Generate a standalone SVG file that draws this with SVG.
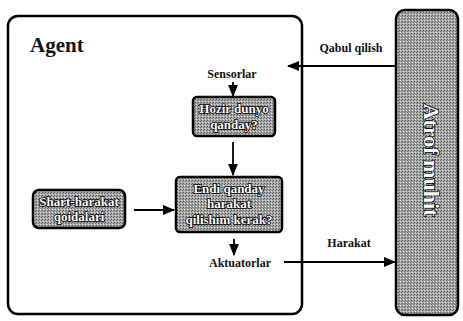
<svg xmlns="http://www.w3.org/2000/svg" width="463" height="321" viewBox="0 0 463 321">
<style>
.lbl{font-family:"Liberation Serif",serif;font-weight:bold;fill:#111;}
.wt{font-family:"Liberation Serif",serif;font-weight:bold;fill:#fff;stroke:#000;stroke-width:1.6;paint-order:stroke;text-anchor:middle;}
.box{fill:url(#dither);stroke:#000;stroke-width:2.5;}
.ln{stroke:#000;stroke-width:1.8;fill:none;}
</style>
<defs>
<pattern id="dither" width="3" height="3" patternUnits="userSpaceOnUse">
<rect width="3" height="3" fill="#a8a8a8"/>
<rect x="0" y="0" width="1" height="1" fill="#555"/>
<rect x="2" y="1" width="1" height="1" fill="#6a6a6a"/>
<rect x="1" y="2" width="1" height="1" fill="#e0e0e0"/>
</pattern>
<marker id="ah" viewBox="0 0 10 10" refX="9" refY="5" markerWidth="7" markerHeight="7" orient="auto-start-reverse">
<path d="M0,1 L10,5 L0,9 Z" fill="#000"/>
</marker>
</defs>
<rect width="463" height="321" fill="#fff"/>
<g id="agent">
<rect x="8" y="16" width="294" height="298" rx="10" fill="#fff" stroke="#000" stroke-width="2.5"/>
<text class="lbl" x="30" y="52" font-size="21">Agent</text>
</g>
<g id="env">
<rect x="396" y="10" width="62" height="305" rx="9" class="box"/>
<text class="wt" font-size="22" stroke-width="2" transform="translate(424,160) rotate(90)">Atrof muhit</text>
</g>
<g id="sensorlar"><text class="lbl" x="232" y="78" font-size="12" text-anchor="middle">Sensorlar</text></g>
<g id="hozir">
<rect x="193" y="97" width="82" height="39" rx="4" class="box"/>
<text class="wt" x="234" y="113" font-size="13">Hozir dunyo</text>
<text class="wt" x="234" y="129" font-size="13">qanday?</text>
</g>
<g id="endi">
<rect x="176" y="177" width="106" height="55" rx="4" class="box"/>
<text class="wt" x="229" y="193" font-size="13">Endi qanday</text>
<text class="wt" x="229" y="208" font-size="13">harakat</text>
<text class="wt" x="229" y="224" font-size="13">qilishim kerak?</text>
</g>
<g id="shart">
<rect x="33" y="190" width="92" height="38" rx="6" class="box"/>
<text class="wt" x="79" y="206" font-size="13">Shart-harakat</text>
<text class="wt" x="79" y="221" font-size="13">qoidalari</text>
</g>
<g id="aktuatorlar"><text class="lbl" x="240" y="267" font-size="12" text-anchor="middle">Aktuatorlar</text></g>
<g id="connectors">
<line class="ln" x1="233" y1="82" x2="233" y2="96" marker-end="url(#ah)"/>
<line class="ln" x1="233" y1="142" x2="233" y2="175" marker-end="url(#ah)"/>
<line class="ln" x1="134" y1="210" x2="174" y2="210" marker-end="url(#ah)"/>
<line class="ln" x1="234" y1="239" x2="234" y2="255" marker-end="url(#ah)"/>
<line class="ln" x1="396" y1="66" x2="288" y2="66" marker-end="url(#ah)"/>
<line class="ln" x1="284" y1="262" x2="395" y2="262" marker-end="url(#ah)"/>
<text class="lbl" x="351" y="52" font-size="12" text-anchor="middle">Qabul qilish</text>
<text class="lbl" x="349" y="247" font-size="12" text-anchor="middle">Harakat</text>
</g>
</svg>
